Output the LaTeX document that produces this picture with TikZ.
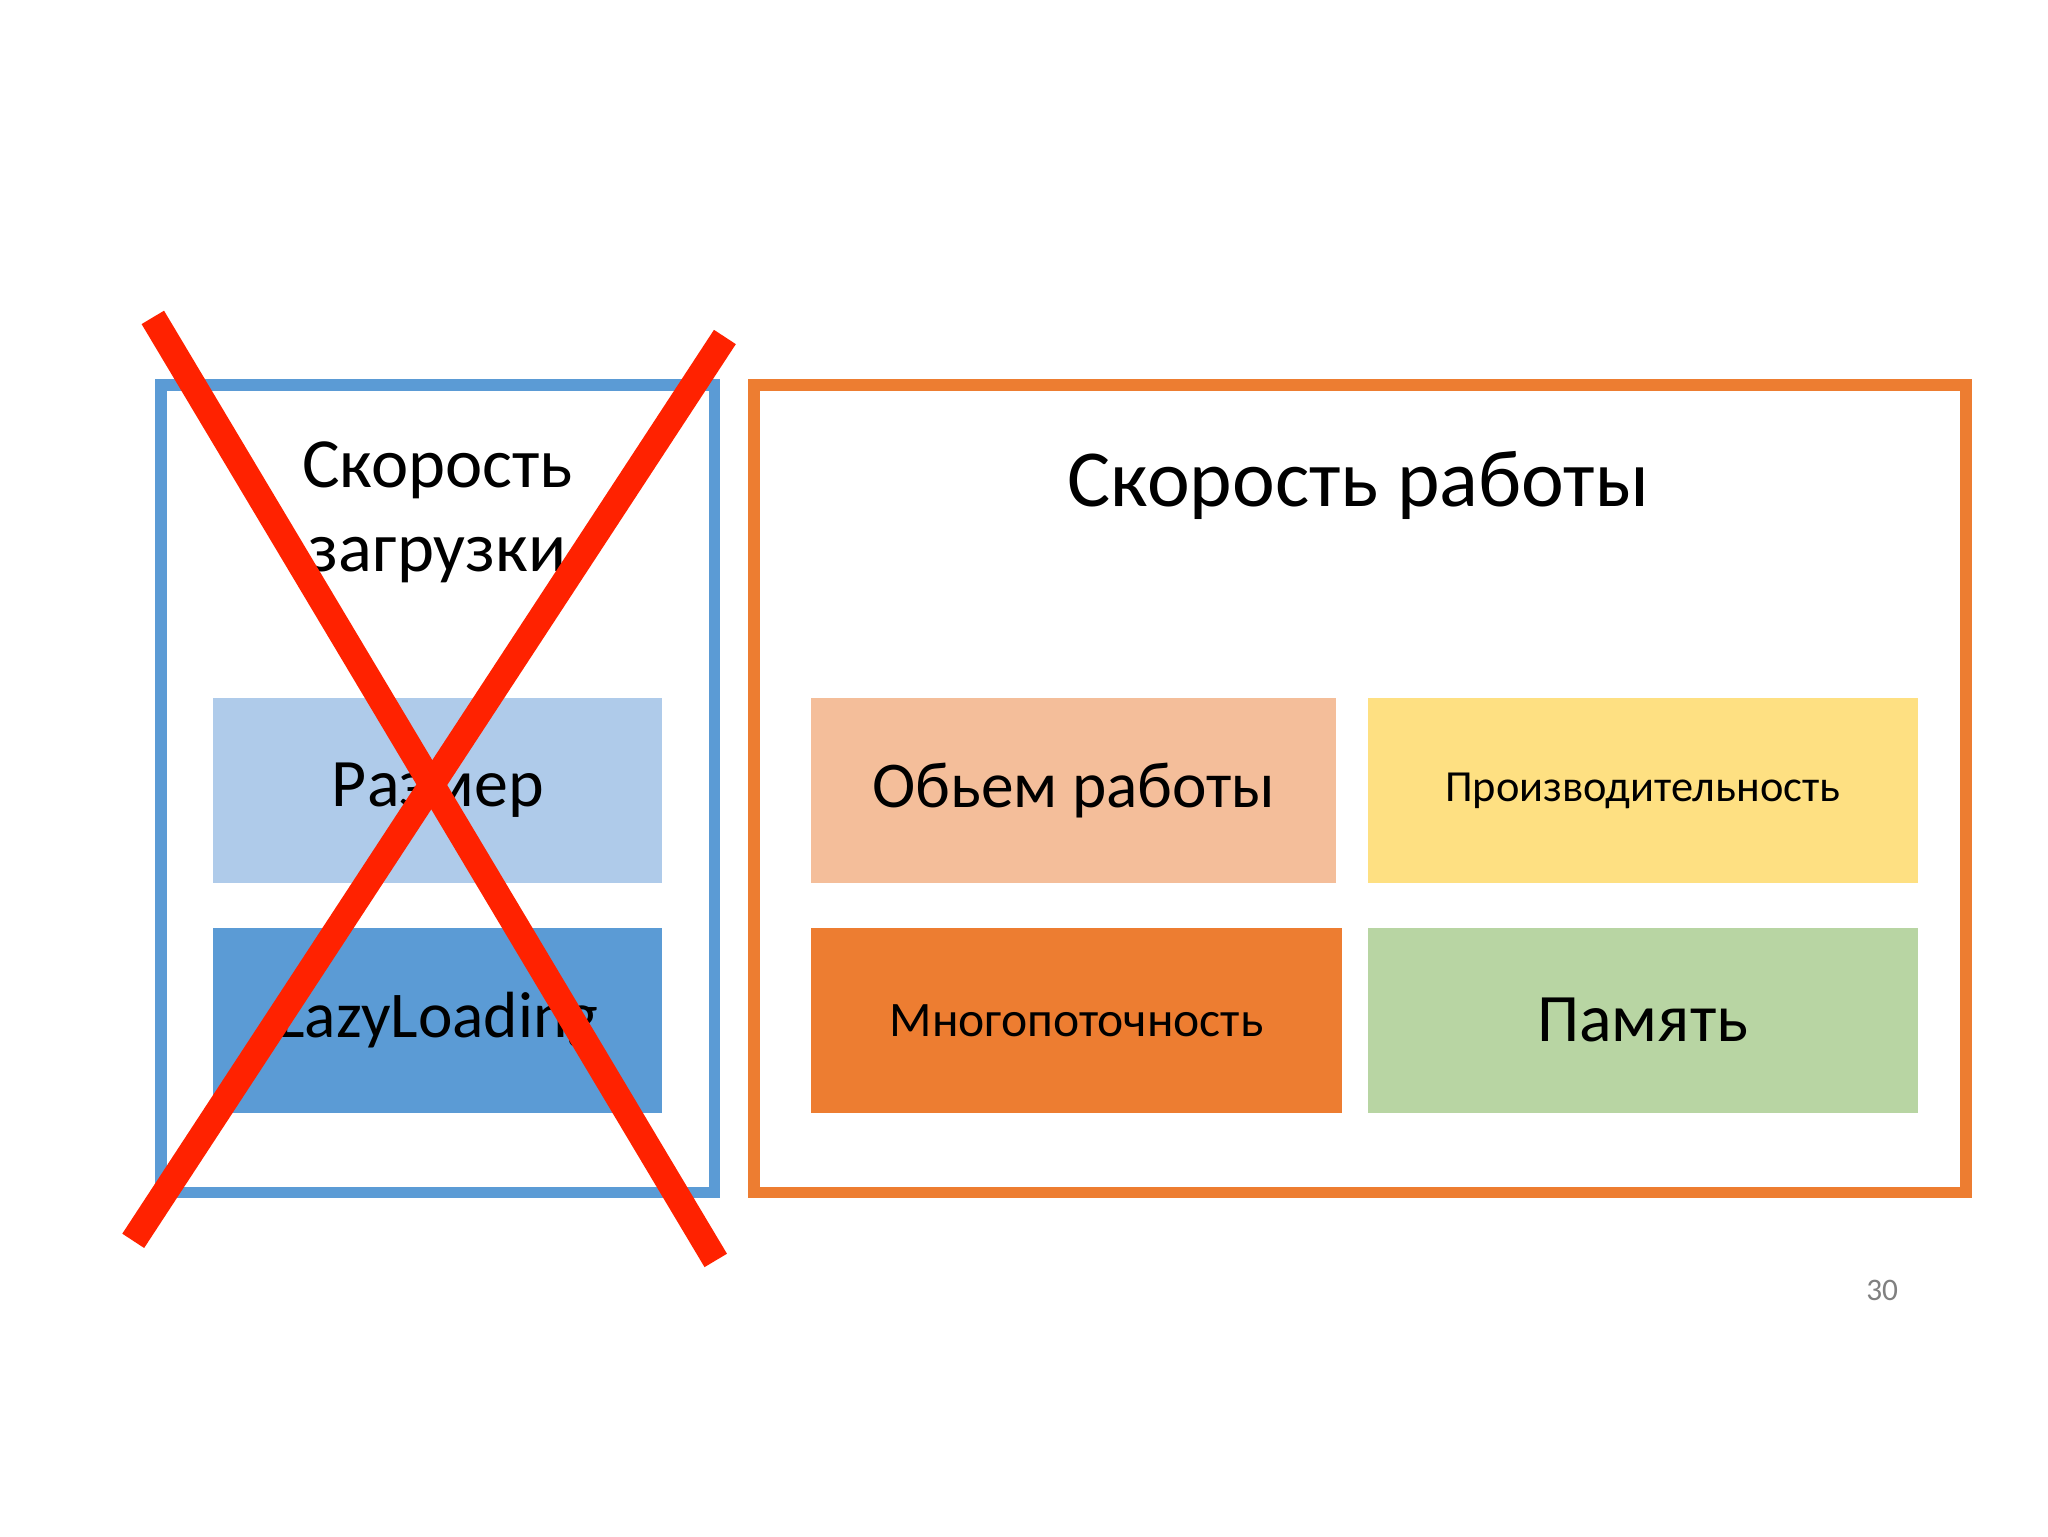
\documentclass[tikz,border=0pt]{standalone}
\usepackage{fontspec}
\setmainfont{Carlito}
\begin{document}
\begin{tikzpicture}[x=1pt,y=-1pt,
  box/.style={draw=none,minimum width=#1,minimum height=142,inner sep=0,text=black},
  frame/.style={line width=9},
  cross/.style={draw={rgb,255:red,255;green,34;blue,0},line width=20}]
\useasboundingbox (0,0) rectangle (1568,1176);
\definecolor{fb}{RGB}{91,155,213}
\definecolor{fo}{RGB}{237,125,49}
\draw[frame,fb] (123,295) rectangle (547,913);
\draw[frame,fo] (577,295) rectangle (1505,913);
\node[align=center,font=\fontsize{54}{64}\selectfont] (t1) at (335,392) {Скорость\\загрузки};
\node[font=\fontsize{62}{70}\selectfont] (t2) at (1040,372) {Скорость работы};
\node[box=344,fill={rgb,255:red,175;green,203;blue,234},anchor=north west,font=\fontsize{52}{60}\selectfont] (a) at (163,534) {Размер};
\node[box=344,fill=fb,anchor=north west,font=\fontsize{50}{60}\selectfont] (b) at (163,710) {LazyLoading};
\node[box=402,fill={rgb,255:red,244;green,190;blue,154},anchor=north west,font=\fontsize{50}{60}\selectfont] (c) at (621,534) {Обьем работы};
\node[box=421,fill={rgb,255:red,254;green,224;blue,130},anchor=north west,font=\fontsize{34}{40}\selectfont] (d) at (1047,534) {Производительность};
\node[box=406,fill=fo,anchor=north west,font=\fontsize{38}{44}\selectfont] (e) at (621,710) {Многопоточность};
\node[box=421,fill={rgb,255:red,184;green,213;blue,163},anchor=north west,font=\fontsize{52}{60}\selectfont] (f) at (1047,710) {Память};
\coordinate (x1) at (117,243); \coordinate (x2) at (548,965);
\coordinate (y1) at (555,258); \coordinate (y2) at (102,950);
\draw[cross] (x1) -- (x2);
\draw[cross] (y1) -- (y2);
\node[text=gray,font=\fontsize{24}{28}\selectfont] (p) at (1441,988) {30};
\end{tikzpicture}
\end{document}
